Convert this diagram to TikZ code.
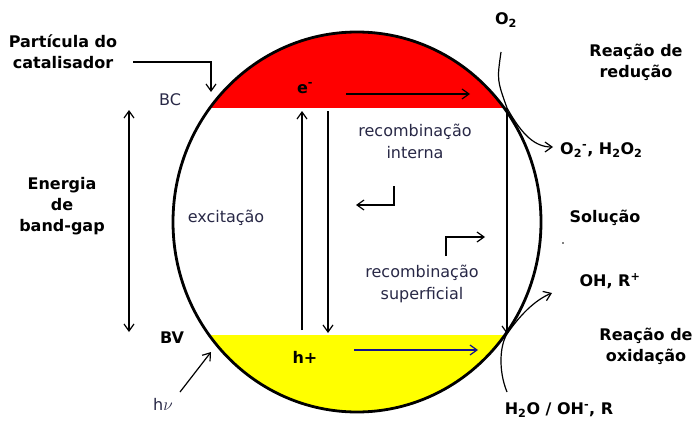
\documentclass[tikz,border=0pt]{standalone}
\usepackage{fontspec}
\setmainfont{DejaVu Sans}
\usetikzlibrary{arrows.meta,positioning}
\definecolor{bandred}{RGB}{255,0,0}
\definecolor{bandyellow}{RGB}{255,255,0}
\definecolor{holeblue}{RGB}{20,20,140}
\definecolor{txtgray}{RGB}{40,40,70}

\begin{document}
\begin{tikzpicture}[x=1pt, y=-1pt, >={Straight Barb[length=7pt,width=10pt]},
    title/.style={font=\fontsize{16}{21}\selectfont\bfseries, align=center, inner sep=0pt},
    note/.style={font=\fontsize{16}{22}\selectfont, text=txtgray, align=center, inner sep=0pt},
    link/.style={->, line width=1.2pt}]
      \useasboundingbox (0,0) rectangle (695,420);

      % Particle with conduction and valence bands
      \begin{scope}
        \clip (357,222) ellipse [x radius=184pt, y radius=190pt];
        \fill[bandred] (160,20) rectangle (560,108);
        \fill[bandyellow] (160,335) rectangle (560,420);
      \end{scope}
      \draw[line width=2.8pt] (357,222) ellipse [x radius=184pt, y radius=190pt];

      % Band edges
      \coordinate (bcR) at (507,108);
      \coordinate (bvR) at (507,334);

      % Labels
      \node[title] (particula) at (63,52) {Partícula do\\catalisador};
      \node[note] (bc) at (170,100) {BC};
      \node[title] (energia) at (62,206) {Energia\\de\\band-gap};
      \node[title] (bv) at (172,338) {BV};
      \node[note] (hv) at (163,404) {h$\nu$};
      \node[note] (excit) at (226,218) {excitação};
      \node[title] (eminus) at (305,88) {e\textsuperscript{-}};
      \node[title] (hplus) at (305,357) {h+};
      \node[note] (recint) at (415,141) {recombinação\\interna};
      \node[note] (recsup) at (422,284) {recombinação\\superficial};
      \node[title] (o2) at (506,20) {O\textsubscript{2}};
      \node[title] (reducao) at (636,62) {Reação de\\redução};
      \node[title, anchor=west] (o2prod) at (560,150) {O\textsubscript{2}\textsuperscript{-}, H\textsubscript{2}O\textsubscript{2}};
      \node[title] (solucao) at (605,218) {Solução};
      \node[title] (ohr) at (610,281) {OH, R\textsuperscript{+}};
      \node[title] (oxidacao) at (646,346) {Reação de\\oxidação};
      \node[title] (h2o) at (559,410) {H\textsubscript{2}O / OH\textsuperscript{-}, R};
      \fill (563,243) circle (0.8pt);

      % Arrow ends
      \coordinate (catA) at (133,62);
      \coordinate (catB) at (211,92);
      \coordinate (gapT) at (129,110);
      \coordinate (gapB) at (129,332);
      \coordinate (hvA) at (180,392);
      \coordinate (hvB) at (211,352);
      \coordinate (eA) at (346,94);
      \coordinate (eB) at (470,94);
      \coordinate (hA) at (354,350);
      \coordinate (hB) at (478,350);
      \coordinate (excB) at (302,330);
      \coordinate (excT) at (302,111);
      \coordinate (recT) at (328,111);
      \coordinate (recB) at (328,333);
      \coordinate (intA) at (394,186);
      \coordinate (intB) at (356,205);
      \coordinate (supA) at (446,256);
      \coordinate (supB) at (485,237);
      \coordinate (o2A) at (501,52);
      \coordinate (o2B) at (553,147);
      \coordinate (h2oA) at (507,392);
      \coordinate (ohB) at (552,293);

      % Connections
      \draw[link] (catA) -| (catB);
      \draw[<->, line width=1.2pt] (gapT) -- (gapB);
      \draw[link] (hvA) -- (hvB);
      \draw[link] (eA) -- (eB);
      \draw[link, holeblue] (hA) -- (hB);
      \draw[link] (excB) -- (excT);
      \draw[link] (recT) -- (recB);
      \draw[link] (intA) |- (intB);
      \draw[link] (supA) |- (supB);
      \draw[link] (bcR) -- (bvR);

      % Reactions at the surface
      \draw[link] (o2A) .. controls (497,80) .. (bcR) .. controls (522,135) and (535,147) .. (o2B);
      \draw[link] (h2oA) .. controls (498,370) and (500,345) .. (bvR) .. controls (520,315) and (535,300) .. (ohB);
    \end{tikzpicture}
\end{document}
